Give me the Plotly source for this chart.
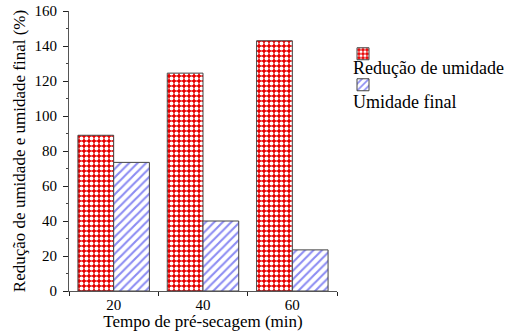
import plotly.graph_objects as go

categories = ["20", "40", "60"]
reducao = [89, 124.5, 143]
umidade_final = [73.5, 40, 23.5]
series_names = ["Redução de umidade", "Umidade final"]
y_ticks = [0, 20, 40, 60, 80, 100, 120, 140, 160]

FONT = "Liberation Serif, Times New Roman, serif"
L, R, T, B = 69, 173, 11, 40
W, H = 510, 331
pw, ph = W - L - R, H - T - B

fig = go.Figure()
fig.add_trace(go.Bar(
    x=categories, y=reducao, name=" ", legendgroup="a",
    marker=dict(color="#e80000", line=dict(color="#444", width=1),
                pattern=dict(shape=".", fgcolor="white", bgcolor="#e80000",
                             size=5, solidity=0.5, fillmode="replace")),
))
fig.add_trace(go.Bar(
    x=categories, y=umidade_final, name=" ", legendgroup="b",
    marker=dict(color="white", line=dict(color="#444", width=1),
                pattern=dict(shape="/", fgcolor="#1a1ae6", bgcolor="white",
                             size=6, solidity=0.35, fillmode="overlay")),
))

def px_x(p):
    return (p - L) / pw

def px_y(p):
    return (H - B - p) / ph

fig.update_layout(
    width=W, height=H,
    margin=dict(l=L, r=R, t=T, b=B, pad=0, autoexpand=False),
    paper_bgcolor="white", plot_bgcolor="white",
    font=dict(family=FONT, size=15, color="black"),
    barmode="group", bargap=0.2, bargroupgap=0,
    showlegend=True,
    legend=dict(x=px_x(343), y=px_y(37.5), xanchor="left", yanchor="top",
                font=dict(size=15), tracegroupgap=8.5, bgcolor="rgba(0,0,0,0)",
                itemclick=False),
    xaxis=dict(
        type="category", tickson="boundaries", ticks="outside", ticklen=4,
        tickcolor="#222", showline=True, linecolor="#555", linewidth=1,
        showgrid=False, zeroline=False, tickfont=dict(size=15),
        title=dict(text="Tempo de pré-secagem (min)", font=dict(size=17), standoff=4),
    ),
    yaxis=dict(
        range=[0, 160], tickvals=y_ticks, ticks="outside", ticklen=5,
        tickcolor="#222", showline=True, linecolor="#555", linewidth=1,
        showgrid=False, zeroline=False, tickfont=dict(size=15), ticklabelstandoff=3,
        minor=dict(dtick=10, ticks="outside", ticklen=2, tickcolor="#444"),
        title=dict(text="Redução de umidade e umidade final (%)", font=dict(size=17), standoff=4),
    ),
    yaxis2=dict(
        overlaying="y", range=[0, 160], tickvals=y_ticks, ticks="inside", ticklen=4,
        tickcolor="#222", showticklabels=False, showgrid=False, zeroline=False,
        showline=False, side="left",
        minor=dict(dtick=10, ticks="inside", ticklen=2, tickcolor="#444"),
    ),
)

fig.add_annotation(text=series_names[0], x=px_x(351), y=px_y(68), xref="paper", yref="paper",
                   xanchor="left", yanchor="middle", showarrow=False, font=dict(size=18))
fig.add_annotation(text=series_names[1], x=px_x(351), y=px_y(102), xref="paper", yref="paper",
                   xanchor="left", yanchor="middle", showarrow=False, font=dict(size=18))

fig.write_html("out.html", config={"displayModeBar": False},
               post_script="document.body.style.margin='0';document.body.style.padding='0';")
